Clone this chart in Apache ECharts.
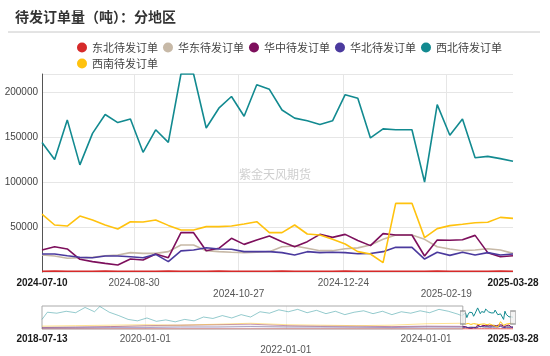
<!DOCTYPE html>
<html><head><meta charset="utf-8">
<script src="https://cdn.jsdelivr.net/npm/echarts@6/dist/echarts.min.js"></script>
<style>html,body{margin:0;padding:0;background:#fff}#c{width:550px;height:356px}</style>
</head><body><div id="c"></div>
<script>
const titleText = '待发订单量（吨）：分地区';
const watermark = '紫金天风期货';
const names = ['东北待发订单','华东待发订单','华中待发订单','华北待发订单','西北待发订单','西南待发订单'];
const colors = ['#d62a2a','#c7b9a7','#7d0f5c','#4b3a9e','#128a90','#ffc20e'];

const mainDates = ['2024-07-10','2024-07-17','2024-07-24','2024-07-31','2024-08-07','2024-08-14','2024-08-21','2024-08-28','2024-09-04','2024-09-11','2024-09-18','2024-09-25','2024-10-02','2024-10-09','2024-10-16','2024-10-23','2024-10-30','2024-11-06','2024-11-13','2024-11-20','2024-11-27','2024-12-04','2024-12-11','2024-12-18','2024-12-25','2025-01-01','2025-01-08','2025-01-15','2025-01-22','2025-01-31','2025-02-07','2025-02-14','2025-02-21','2025-02-28','2025-03-07','2025-03-14','2025-03-21','2025-03-28'];
const dongbei = [900,1000,900,800,900,1000,900,800,900,900,1000,900,800,900,1000,900,900,800,900,1000,900,900,800,900,1000,900,800,900,900,800,900,1000,900,900,800,900,1000,900];
const huadong = [18900,17800,15200,15900,16300,18100,18900,21500,20700,20700,22600,30000,30000,23700,22600,21900,21500,21900,22600,28100,28900,26300,23700,23700,25900,26800,30000,36300,41100,41100,36300,28100,25600,23700,24400,25900,24400,20700];
const huazhong = [24400,28100,25600,14100,11500,9600,7800,14400,13300,20000,15900,43700,43700,23700,26300,37400,30700,35500,40000,33700,28100,33700,41800,38500,41800,35000,29300,42600,41100,41100,17800,35500,35200,35800,40700,21500,17000,18100];
const huabei = [20000,20000,18100,16300,15900,17800,17800,17000,15900,19600,11500,23500,24400,27000,25600,25200,22600,22600,22600,21500,18900,22600,21500,21900,21500,20300,20500,22600,27400,27400,14400,21900,18500,21900,18900,21500,18900,20000];
const xibei = [144000,125000,169000,119000,154000,175000,166000,170000,133000,158000,144000,220000,220000,160000,182000,195000,173000,208000,203000,180000,171000,168000,164000,168000,197000,193000,149000,159000,158000,158000,100000,186000,152000,170000,127000,128500,126000,123000];
const xinan = [64400,52200,51100,62200,57800,52200,47800,55900,55600,57800,51800,46700,46700,50400,50400,51100,53300,55900,43700,43700,52200,42200,41100,36300,31100,22600,20000,10400,76300,76300,38200,48200,51500,53000,54800,55200,60700,59600];

// history shown in the overview strip (estimated from thumbnail)
const histDates = ['2018-07-13','2018-08-10','2018-09-28','2018-11-16','2019-01-04','2019-02-22','2019-04-12','2019-05-10','2019-06-28','2019-08-16','2019-10-04','2019-11-22','2020-01-10','2020-02-28','2020-04-17','2020-06-05','2020-07-24','2020-09-11','2020-10-30','2020-12-18','2021-02-05','2021-03-26','2021-05-14','2021-07-02','2021-08-20','2021-10-08','2021-11-26','2022-01-14','2022-03-04','2022-04-22','2022-06-10','2022-07-29','2022-09-16','2022-11-04','2022-12-23','2023-02-10','2023-03-31','2023-05-19','2023-07-07','2023-08-25','2023-10-13','2023-12-01','2024-01-19','2024-03-08','2024-04-26','2024-06-14','2024-07-03'];
const xibeiHist = [100000,175000,165000,185000,170000,225000,180000,235000,175000,140000,100000,85000,115000,80000,95000,75000,100000,85000,125000,110000,140000,115000,150000,125000,180000,165000,200000,180000,205000,170000,195000,160000,185000,150000,175000,190000,160000,185000,150000,180000,165000,190000,170000,205000,185000,155000,140000];
const histDatesCoarse = ['2018-07-13','2019-01-04','2019-07-05','2020-01-03','2020-07-03','2021-01-08','2021-07-02','2022-01-07','2022-07-01','2023-01-06','2023-07-07','2024-01-05','2024-07-03'];
const dongbeiHist = [1500,1500,1500,1500,1500,1500,1500,1500,1500,1500,1500,1500,1500];
const huadongHist = [20000,20000,25000,25000,30000,30000,30000,25000,25000,20000,20000,25000,20000];
const huazhongHist = [15000,20000,25000,35000,40000,45000,50000,35000,30000,30000,25000,30000,28000];
const huabeiHist = [10000,12000,15000,15000,20000,20000,25000,20000,20000,18000,15000,20000,20000];
const xinanHist = [30000,35000,40000,45000,40000,50000,60000,45000,40000,35000,40000,55000,60000];

const mainTicks = ['2024-07-10','2024-08-30','2024-10-27','2024-12-24','2025-02-19','2025-03-28'];
const mainLowRow = ['2024-10-27','2025-02-19'];
const ovTicks = ['2018-07-13','2020-01-01','2022-01-01','2024-01-01','2025-03-28'];
const ovLowRow = ['2022-01-01'];

const mainVals = [dongbei, huadong, huazhong, huabei, xibei, xinan];
const histVals = [dongbeiHist, huadongHist, huazhongHist, huabeiHist, xibeiHist, xinanHist];
const histDateSets = [histDatesCoarse, histDatesCoarse, histDatesCoarse, histDatesCoarse, histDates, histDatesCoarse];

const P = d => echarts.number.parseDate(d).getTime();
const fmt = v => echarts.time.format(v, '{yyyy}-{MM}-{dd}', false);
function labelFn(ticks, low) {
  const first = ticks[0], last = ticks[ticks.length - 1];
  return v => {
    const s = fmt(v);
    const tag = (s === first || s === last) ? 'b' : 'n';
    return (low.includes(s) ? '\n' : '') + '{' + tag + '|' + s + '}';
  };
}
const rich = {
  b: {fontWeight: 'bold', color: '#1a1a1a', fontSize: 10, lineHeight: 11, fontFamily: 'Liberation Sans'},
  n: {color: '#555', fontSize: 10, lineHeight: 11, fontFamily: 'Liberation Sans'}
};
const ovMax = 240000;

const series = [];
names.forEach((n, k) => {
  series.push({
    name: n, type: 'line', xAxisIndex: 0, yAxisIndex: 0,
    data: mainDates.map((d, i) => [P(d), mainVals[k][i]]),
    showSymbol: false, lineStyle: {width: 1.6, color: colors[k]}, itemStyle: {color: colors[k]},
    z: 3
  });
});
names.forEach((n, k) => {
  const hd = histDateSets[k].map((d, i) => [P(d), histVals[k][i]]);
  hd.push([P(mainDates[0]), mainVals[k][0]]);
  series.push({
    name: n, type: 'line', xAxisIndex: 1, yAxisIndex: 1, data: hd,
    showSymbol: false, silent: true,
    lineStyle: {width: 1, color: colors[k], opacity: 0.45}, itemStyle: {color: colors[k]}
  });
  series.push({
    name: n, type: 'line', xAxisIndex: 1, yAxisIndex: 1,
    data: mainDates.map((d, i) => [P(d), mainVals[k][i]]),
    showSymbol: false, silent: true,
    lineStyle: {width: 1, color: colors[k]}, itemStyle: {color: colors[k]}
  });
});
// overview frame (unselected range) and window handles
series.push({
  type: 'line', xAxisIndex: 1, yAxisIndex: 1, data: [], silent: true,
  markArea: {silent: true, itemStyle: {color: 'rgba(0,0,0,0)', borderColor: '#aaa', borderWidth: 1},
    data: [[{xAxis: P(ovTicks[0])}, {xAxis: P(mainDates[0])}]]}
});
series.push({
  type: 'scatter', xAxisIndex: 1, yAxisIndex: 1, silent: true, z: 10,
  symbol: 'rect', symbolSize: [5, 13],
  itemStyle: {color: '#f0f0f0', borderColor: '#888', borderWidth: 1},
  data: [[P(mainDates[0]), ovMax / 2], [P(mainTicks[mainTicks.length - 1]), ovMax / 2]]
});

const option = {
  animation: false,
  backgroundColor: '#fff',
  title: {text: titleText, left: 10, top: 5,
    textStyle: {fontSize: 14, fontWeight: 'bold', color: '#333', fontFamily: 'Noto Sans CJK SC'}},
  legend: {data: names, left: 72, top: 37, width: 440, itemWidth: 10, itemHeight: 10, itemGap: 5,
    icon: 'circle', textStyle: {fontSize: 11, color: '#444', fontFamily: 'Noto Sans CJK SC'}},
  graphic: [
    {type: 'line', shape: {x1: 8, y1: 32, x2: 540, y2: 32}, style: {stroke: '#c8c8c8', lineWidth: 1}, silent: true},
    {type: 'text', left: 'center', top: 168, style: {text: watermark, fill: '#cfcfcf', fontSize: 12, fontFamily: 'Noto Sans CJK SC'}, silent: true}
  ],
  grid: [
    {left: 42, right: 37, top: 74, bottom: 84},
    {left: 42, right: 37, top: 306, height: 24}
  ],
  xAxis: [
    {type: 'value', gridIndex: 0, min: P(mainTicks[0]), max: P(mainTicks[mainTicks.length - 1]),
      axisLine: {show: false}, axisTick: {show: false, customValues: mainTicks.slice(1, -1).map(P)},
      splitLine: {show: true, lineStyle: {color: '#e6e6e6'}},
      axisLabel: {customValues: mainTicks.map(P), formatter: labelFn(mainTicks, mainLowRow), rich: rich,
        lineHeight: 11, fontSize: 10, margin: 6, hideOverlap: false}},
    {type: 'value', gridIndex: 1, min: P(ovTicks[0]), max: P(ovTicks[ovTicks.length - 1]),
      axisLine: {show: false}, axisTick: {show: false, customValues: ovTicks.slice(1, -1).map(P)},
      splitLine: {show: true, lineStyle: {color: '#f0f0f0'}},
      axisLabel: {customValues: ovTicks.map(P), formatter: labelFn(ovTicks, ovLowRow), rich: rich,
        lineHeight: 11, fontSize: 10, margin: 5, hideOverlap: false}}
  ],
  yAxis: [
    {type: 'value', gridIndex: 0, min: 0, max: 220000, interval: 50000,
      axisLine: {show: true, lineStyle: {color: '#555'}}, axisTick: {show: false},
      splitLine: {lineStyle: {color: '#e6e6e6'}},
      axisLabel: {color: '#444', fontSize: 10, margin: 4, showMinLabel: false, showMaxLabel: false,
        fontFamily: 'Liberation Sans', formatter: v => String(v)}},
    {type: 'value', gridIndex: 1, min: 0, max: ovMax, show: false, splitLine: {show: false}}
  ],
  series: series
};
const chart = echarts.init(document.getElementById('c'));
chart.setOption(option);
</script></body></html>
